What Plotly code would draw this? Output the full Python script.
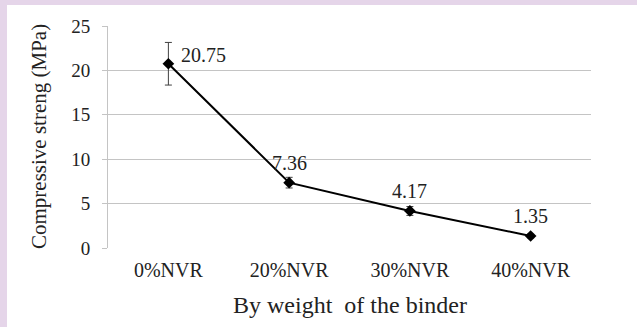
import plotly.graph_objects as go

categories = ["0%NVR", "20%NVR", "30%NVR", "40%NVR"]
strength = [20.75, 7.36, 4.17, 1.35]
err = [2.4, 0.6, 0.5, 0.2]
labels = ["20.75", "7.36", "4.17", "1.35"]
y_ticks = [0, 5, 10, 15, 20, 25]

W, H = 637, 327
L, R, T, B = 108, 46, 26, 79
pw, ph = W - L - R, H - T - B

fig = go.Figure()
fig.add_trace(go.Scatter(
    x=categories, y=strength,
    mode="lines+markers",
    line=dict(color="black", width=2),
    marker=dict(symbol="diamond", size=9, color="black"),
    error_y=dict(type="data", array=err, visible=True, color="#404040", thickness=1, width=3.5),
    showlegend=False,
))

font = "Liberation Serif, Times New Roman, serif"
shifts = [(35, 9), (0, 20), (0, 20), (0, 20)]
for c, v, t, (dx, dy) in zip(categories, strength, labels, shifts):
    fig.add_annotation(x=c, y=v, text=t, showarrow=False, xshift=dx, yshift=dy,
                       font=dict(family=font, size=20, color="#222"))

# axis titles
fig.add_annotation(xref="paper", yref="paper", x=0.5, y=-(305 - (T + ph)) / ph,
                   xanchor="center", yanchor="middle",
                   text="By weight  of the binder", showarrow=False,
                   font=dict(family=font, size=24, color="#222"))
fig.add_annotation(xref="paper", yref="paper", x=(39 - L) / pw, y=0.5,
                   xanchor="center", yanchor="middle",
                   text="Compressive streng (MPa)", textangle=-90, showarrow=False,
                   font=dict(family=font, size=21, color="#222"))

# lavender frame strips
fig.add_shape(type="rect", xref="paper", yref="paper",
              x0=-L / pw, x1=(7 - L) / pw, y0=-B / ph, y1=1 + T / ph,
              fillcolor="#E5D5E9", line_width=0, layer="below")
fig.add_shape(type="rect", xref="paper", yref="paper",
              x0=-L / pw, x1=1 + R / pw, y0=1 + (T - 5) / ph, y1=1 + T / ph,
              fillcolor="#E5D5E9", line_width=0, layer="below")

fig.update_layout(
    width=W, height=H,
    margin=dict(l=L, r=R, t=T, b=B, autoexpand=False),
    paper_bgcolor="white", plot_bgcolor="white",
    font=dict(family=font, size=19, color="#222"),
    xaxis=dict(
        type="category", range=[-0.5, 3.5], automargin=False,
        showgrid=False, showline=False, ticks="", zeroline=False,
        tickfont=dict(size=20), ticklabelstandoff=8,
    ),
    yaxis=dict(
        range=[0, 25], tickvals=y_ticks, automargin=False,
        showgrid=True, gridcolor="#C4C4C4", gridwidth=1,
        showline=True, linecolor="#C4C4C4", linewidth=1,
        ticks="outside", ticklen=5, tickcolor="#C4C4C4",
        zeroline=False, tickfont=dict(size=19), ticklabelstandoff=8,
    ),
)
fig.write_html("out.html", config={"displayModeBar": False},
               post_script="document.body.style.margin='0';")
